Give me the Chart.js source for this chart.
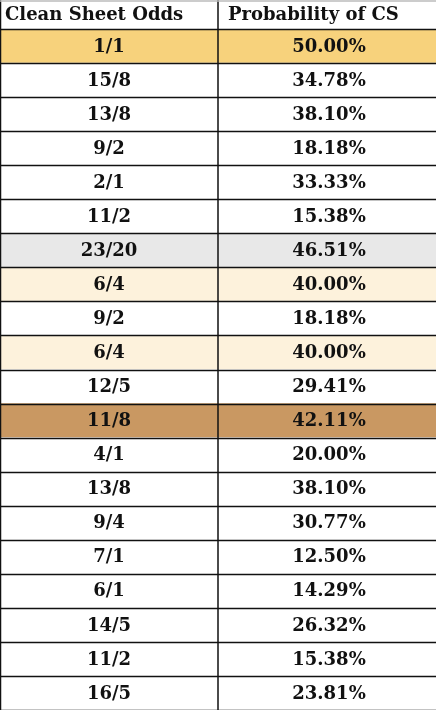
<!DOCTYPE html>
<html>
<head>
<meta charset="utf-8">
<script src="https://cdn.jsdelivr.net/npm/chart.js@4"></script>
<style>
  html, body { margin: 0; padding: 0; background: #fff; }
  #wrap { width: 436px; height: 710px; }
</style>
</head>
<body>
<div id="wrap"><canvas id="oddsTable"></canvas></div>
<script>
const headers = ['Clean Sheet Odds', 'Probability of CS'];
const odds = ['1/1', '15/8', '13/8', '9/2', '2/1', '11/2', '23/20', '6/4', '9/2', '6/4',
  '12/5', '11/8', '4/1', '13/8', '9/4', '7/1', '6/1', '14/5', '11/2', '16/5'];
const probs = ['50.00%', '34.78%', '38.10%', '18.18%', '33.33%', '15.38%', '46.51%', '40.00%', '18.18%', '40.00%',
  '29.41%', '42.11%', '20.00%', '38.10%', '30.77%', '12.50%', '14.29%', '26.32%', '15.38%', '23.81%'];
const highlight = { 0: '#f7d27c', 6: '#e8e8e8', 7: '#fdf2dc', 9: '#fdf2dc', 11: '#c99862' };

const rowColors = odds.map((_, i) => highlight[i] || '#ffffff');
const FONT = 'bold 18px "DejaVu Serif", Georgia, serif';

const tablePlugin = {
  id: 'tableText',
  afterDatasetsDraw(chart) {
    const { ctx, chartArea } = chart;
    const x = chart.scales.x, y = chart.scales.y;
    const x0 = x.getPixelForValue(0), x1 = x.getPixelForValue(1), x2 = x.getPixelForValue(2);
    const half = (y.getPixelForValue(1) - y.getPixelForValue(0)) / 2;
    ctx.save();
    ctx.strokeStyle = '#111';
    ctx.lineWidth = 1.5;
    ctx.beginPath();
    for (let i = 0; i <= odds.length; i++) {
      const py = Math.round(y.getPixelForValue(i) - half) + 0.5;
      ctx.moveTo(0, py); ctx.lineTo(chart.width, py);
    }
    ctx.moveTo(x1, 0); ctx.lineTo(x1, chartArea.bottom);
    ctx.moveTo(x0 + 0.5, 0); ctx.lineTo(x0 + 0.5, chartArea.bottom);
    ctx.stroke();
    ctx.strokeStyle = '#bbb';
    ctx.beginPath(); ctx.moveTo(0, 1); ctx.lineTo(chart.width, 1); ctx.stroke();

    ctx.fillStyle = '#111';
    ctx.font = FONT;
    ctx.textBaseline = 'middle';
    const hy = chartArea.top / 2 + 1;
    ctx.textAlign = 'left';
    ctx.fillText(headers[0], x0 + 5, hy);
    ctx.fillText(headers[1], x1 + 10, hy);
    ctx.textAlign = 'center';
    for (let i = 0; i < odds.length; i++) {
      const py = y.getPixelForValue(i) + 1;
      ctx.fillText(odds[i], (x0 + x1) / 2, py);
      ctx.fillText(probs[i], (x1 + x2) / 2 + 2, py);
    }
    ctx.restore();
  }
};

new Chart(document.getElementById('oddsTable'), {
  type: 'bar',
  data: {
    labels: odds,
    datasets: [
      { data: odds.map(() => 1), backgroundColor: rowColors },
      { data: odds.map(() => 1), backgroundColor: rowColors }
    ]
  },
  options: {
    indexAxis: 'y',
    responsive: true,
    maintainAspectRatio: false,
    animation: false,
    layout: { padding: { top: 29, left: 0, right: 0, bottom: 0 } },
    datasets: { bar: { categoryPercentage: 1, barPercentage: 1, borderWidth: 0 } },
    scales: {
      x: { stacked: true, min: 0, max: 2, display: false },
      y: { stacked: true, display: false, offset: true }
    },
    plugins: { legend: { display: false }, tooltip: { enabled: false } }
  },
  plugins: [tablePlugin]
});
</script>
</body>
</html>
